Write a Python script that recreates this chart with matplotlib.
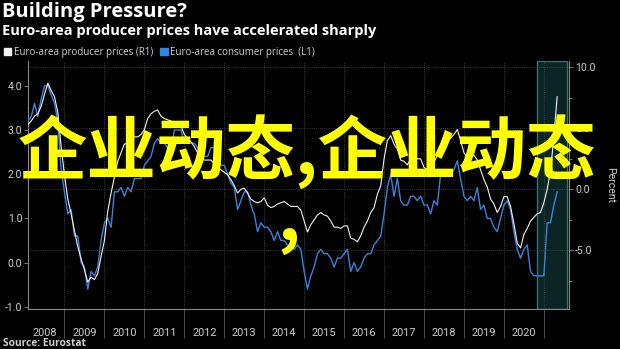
import numpy as np
import matplotlib
matplotlib.use("Agg")
import matplotlib.pyplot as plt
import matplotlib.patches as mpatches
from matplotlib.ticker import FixedLocator, NullFormatter, FormatStrFormatter

plt.rcParams['axes.unicode_minus'] = False
plt.rcParams['font.family'] = ['Roboto', 'DejaVu Sans']

# monthly YoY %, Jan 2008 .. Apr 2021
cpi = [3.2, 3.3, 3.6, 3.3, 3.7, 4.0, 4.0, 3.8, 3.6, 3.2, 2.1, 1.6,
       1.1, 1.2, 0.6, 0.6, 0.0, -0.1, -0.6, -0.2, -0.3, -0.1, 0.5, 0.9,
       1.0, 0.8, 1.6, 1.6, 1.7, 1.5, 1.7, 1.6, 1.9, 1.9, 1.9, 2.2,
       2.3, 2.4, 2.7, 2.8, 2.7, 2.7, 2.6, 2.5, 3.0, 3.0, 3.0, 2.7,
       2.7, 2.7, 2.7, 2.6, 2.4, 2.4, 2.4, 2.6, 2.6, 2.5, 2.2, 2.2,
       2.0, 1.8, 1.7, 1.2, 1.4, 1.6, 1.6, 1.3, 1.1, 0.7, 0.9, 0.8,
       0.8, 0.7, 0.5, 0.7, 0.5, 0.5, 0.4, 0.4, 0.3, 0.4, 0.3, -0.2,
       -0.6, -0.3, -0.1, 0.2, 0.3, 0.2, 0.2, 0.1, -0.1, 0.1, 0.1, 0.2,
       0.3, -0.2, 0.0, -0.2, -0.1, 0.1, 0.2, 0.2, 0.4, 0.5, 0.6, 1.1,
       1.7, 2.0, 1.5, 1.9, 1.4, 1.3, 1.3, 1.5, 1.5, 1.4, 1.5, 1.3,
       1.3, 1.1, 1.4, 1.3, 2.0, 2.0, 2.1, 2.0, 2.1, 2.3, 1.9, 1.5,
       1.4, 1.5, 1.4, 1.7, 1.2, 1.3, 1.0, 1.0, 0.8, 0.7, 1.0, 1.3,
       1.4, 1.2, 0.7, 0.3, 0.1, 0.3, 0.4, -0.2, -0.3, -0.3, -0.3, -0.3,
       0.9, 0.9, 1.3, 1.6]

ppi = [5.3, 5.6, 6.0, 6.2, 6.8, 7.8, 8.7, 8.1, 7.6, 6.3, 3.5, 1.2,
       -0.8, -2.0, -3.4, -4.7, -5.7, -6.6, -7.6, -7.2, -7.4, -6.9, -5.5, -4.2,
       -1.8, -0.3, 1.0, 2.3, 3.0, 3.7, 3.8, 4.0, 4.3, 4.3, 4.5, 4.9,
       5.8, 6.2, 6.4, 6.5, 6.0, 5.8, 5.7, 5.6, 5.5, 5.4, 5.2, 4.5,
       4.2, 3.9, 3.5, 3.0, 2.6, 2.4, 2.4, 2.4, 2.1, 1.8, 1.6, 1.4,
       1.2, 0.8, 0.3, -0.3, 0.0, 0.1, -0.3, -0.8, -1.0, -1.1, -1.0, -0.7,
       -1.3, -1.5, -1.4, -1.2, -1.1, -1.0, -1.2, -1.4, -1.4, -1.4, -1.7, -2.6,
       -3.5, -2.9, -2.5, -2.1, -1.9, -2.1, -2.2, -2.6, -3.1, -3.1, -3.2, -3.0,
       -3.0, -4.0, -4.1, -4.3, -3.8, -3.1, -2.6, -1.9, -1.5, -0.4, 0.3, 2.5,
       4.0, 4.4, 3.7, 3.3, 2.4, 2.3, 2.0, 2.5, 2.8, 2.5, 2.5, 1.8,
       1.6, 1.8, 2.2, 2.8, 3.2, 3.6, 4.0, 4.2, 4.5, 4.9, 4.0, 3.0,
       2.6, 2.9, 2.8, 2.4, 1.6, 0.8, 0.2, -0.8, -1.2, -1.9, -1.4, -0.6,
       -0.6, -1.4, -2.8, -4.4, -4.8, -3.7, -3.2, -2.6, -2.3, -2.0, -1.9, -1.1,
       0.0, 1.5, 4.3, 7.6]

years = list(range(2008, 2021))
# month-end positions in fractional years
t = 2008 + (np.arange(len(cpi)) + 1) / 12
shade_start, shade_end = 2020.82, 2021.57

grey = '#8a8a8a'
label_c = '#d0d0d0'
blue = '#3a83dc'
head_font = ['Open Sans', 'DejaVu Sans']

fig = plt.figure(figsize=(6.2, 3.49), dpi=100, facecolor='black')
ax = fig.add_axes([0.0447, 0.1146, 0.8737, 0.7106], facecolor='black')
ax2 = ax.twinx()
ax2.patch.set_visible(False)

ax.axvspan(shade_start, shade_end, facecolor='#0b2424', edgecolor='#3e6f6f', lw=1.0, zorder=0)
ax.plot(t, cpi, color=blue, lw=1.0, zorder=3)
ax2.plot(t, ppi, color='#f2f2f2', lw=0.8, zorder=3)

ax.set_xlim(2008.08, 2021.64)
ax.set_ylim(-1.05, 4.56)
ax2.set_ylim(-9.81, 10.52)

# left axis (consumer prices)
ax.set_yticks([-1, 0, 1, 2, 3, 4])
ax.yaxis.set_major_formatter(FormatStrFormatter('%.1f'))
ax.tick_params(axis='y', colors=grey, labelcolor=label_c, labelsize=7.5, length=3, width=0.6, pad=1)

# right axis (producer prices)
ax2.set_yticks([-5, 0, 5, 10])
ax2.yaxis.set_minor_locator(FixedLocator([-7.5, -2.5, 2.5, 7.5]))
ax2.yaxis.set_major_formatter(FormatStrFormatter('%.1f'))
ax2.tick_params(axis='y', which='major', colors=grey, labelcolor=label_c, labelsize=7.5, length=3, width=0.6, pad=1)
ax2.tick_params(axis='y', which='minor', colors=grey, length=2, width=0.6)
ax2.set_ylabel('Percent', color=label_c, fontsize=7.5, rotation=270, labelpad=14)
ax2.grid(axis='y', which='major', color='#4a4a4a', lw=0.6, ls=(0, (1, 1.5)))

# years: separators as long major ticks, labels on minor ticks
ax.xaxis.set_major_locator(FixedLocator([y + 1 for y in years]))
ax.xaxis.set_major_formatter(NullFormatter())
ax.xaxis.set_minor_locator(FixedLocator([y + 0.5 for y in years]))
ax.set_xticklabels([str(y) for y in years], minor=True)
ax.tick_params(axis='x', which='major', direction='out', length=21, width=0.6, colors='#5a5a5a')
ax.tick_params(axis='x', which='minor', length=0, labelsize=7.8, labelcolor=label_c, pad=14)
ax.grid(axis='x', which='major', color='#4a4a4a', lw=0.6, ls=(0, (1, 1.5)))

for a in (ax, ax2):
    a.spines['top'].set_visible(False)
    for s in ('left', 'right', 'bottom'):
        a.spines[s].set_color(grey)
        a.spines[s].set_linewidth(0.8)
ax.spines['right'].set_visible(False)
ax2.spines['left'].set_visible(False)
ax2.spines['bottom'].set_visible(False)

# headings
fig.text(2 / 620, 1 - 12 / 349, 'Building Pressure?', color='white', fontsize=14.5,
         fontweight='bold', family=head_font, va='center', ha='left')
fig.text(2 / 620, 1 - 31 / 349, 'Euro-area producer prices have accelerated sharply', color='white',
         fontsize=10.5, fontweight='bold', family=head_font, va='center', ha='left')

handles = [mpatches.Patch(color='#f2f2f2', label='Euro-area producer prices (R1)'),
           mpatches.Patch(color='#2c86f0', label='Euro-area consumer prices  (L1)')]
leg = fig.legend(handles=handles, loc='center left', bbox_to_anchor=(4 / 620, 1 - 52 / 349), ncol=2,
                 frameon=False, handlelength=0.75, handleheight=0.75, handletextpad=0.3,
                 columnspacing=0.7, borderpad=0, borderaxespad=0,
                 prop={'family': head_font, 'size': 7})
for txt in leg.get_texts():
    txt.set_color(label_c)

fig.text(3 / 620, 1 - 343 / 349, 'Source: Eurostat', color=label_c, fontsize=7.3,
         fontweight='bold', family=head_font, va='center', ha='left')

# overlay caption
cjk = ['Noto Sans CJK SC', 'DejaVu Sans']
fig.text(307 / 620, 1 - 174 / 349, '企业动态,企业动态', color='#ffff00', fontsize=50,
         fontweight='bold', family=cjk, ha='center', va='baseline')
fig.text(289 / 620, 1 - 240 / 349, ',', color='#ffff00', fontsize=50,
         fontweight='bold', family=cjk, ha='center', va='baseline')

fig.savefig('out.png', dpi=100, facecolor='black')
